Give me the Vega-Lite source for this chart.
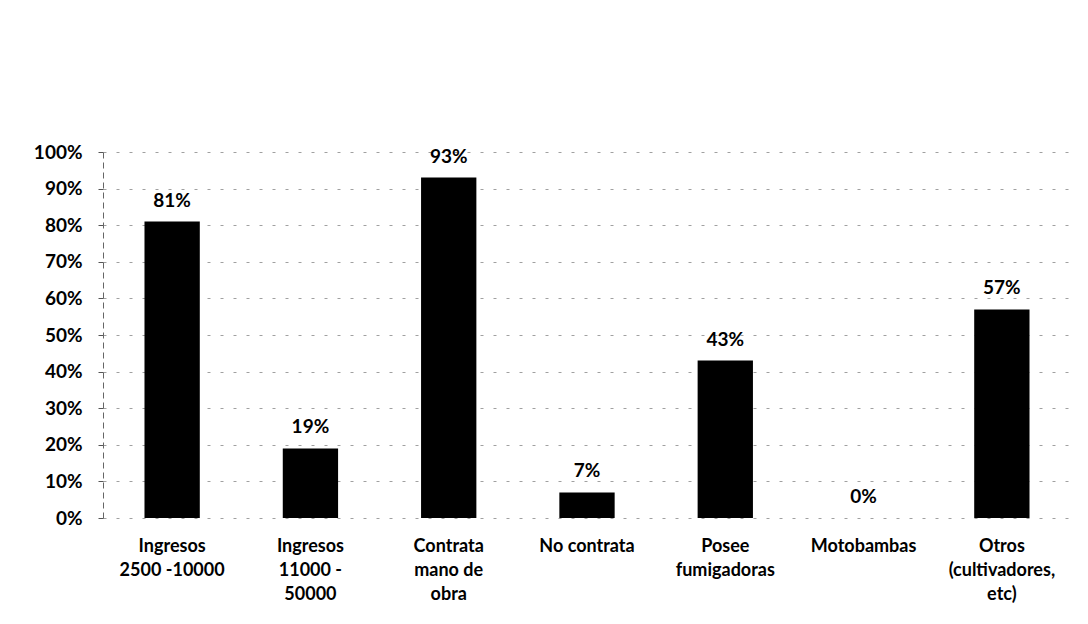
{
  "$schema": "https://vega.github.io/schema/vega-lite/v6.json",
  "width": 968,
  "height": 366,
  "autosize": {"type": "none"},
  "padding": {"left": 103, "top": 152, "right": 17, "bottom": 106},
  "background": "white",
  "config": {"view": {"stroke": null}, "font": "Lato"},
  "data": {
    "values": [
      {"categoria": "Ingresos|2500 -10000", "valor": 0.81},
      {"categoria": "Ingresos|11000 -|50000", "valor": 0.19},
      {"categoria": "Contrata|mano de|obra", "valor": 0.93},
      {"categoria": "No contrata", "valor": 0.07},
      {"categoria": "Posee|fumigadoras", "valor": 0.43},
      {"categoria": "Motobambas", "valor": 0.0},
      {"categoria": "Otros|(cultivadores,|etc)", "valor": 0.57}
    ]
  },
  "encoding": {
    "x": {
      "field": "categoria",
      "type": "nominal",
      "sort": null,
      "scale": {"paddingInner": 0.6, "paddingOuter": 0.3},
      "axis": {
        "title": null,
        "labelAngle": 0,
        "labelExpr": "split(datum.label, '|')",
        "labelLineHeight": 24,
        "labelFontSize": 18,
        "labelFontWeight": "bold",
        "labelColor": "#000000",
        "labelPadding": 19,
        "labelBaseline": "top",
        "ticks": false,
        "domain": false,
        "grid": false
      }
    },
    "y": {
      "field": "valor",
      "type": "quantitative",
      "scale": {"domain": [0, 1], "nice": false},
      "axis": {
        "title": null,
        "format": ".0%",
        "values": [0, 0.1, 0.2, 0.3, 0.4, 0.5, 0.6, 0.7, 0.8, 0.9, 1.0],
        "labelFontSize": 19,
        "labelFontWeight": "bold",
        "labelColor": "#000000",
        "labelPadding": 16,
        "tickSize": 5,
        "tickColor": "#555555",
        "domainColor": "#666666",
        "domainDash": [6, 4],
        "gridColor": "#a0a0a0",
        "gridDash": [3, 10],
        "gridWidth": 1
      }
    }
  },
  "layer": [
    {"mark": {"type": "bar", "color": "#000000"}},
    {
      "mark": {"type": "text", "baseline": "alphabetic", "dy": -15, "fontSize": 19, "fontWeight": "bold", "color": "#000000"},
      "encoding": {"text": {"field": "valor", "type": "quantitative", "format": ".0%"}}
    }
  ]
}
